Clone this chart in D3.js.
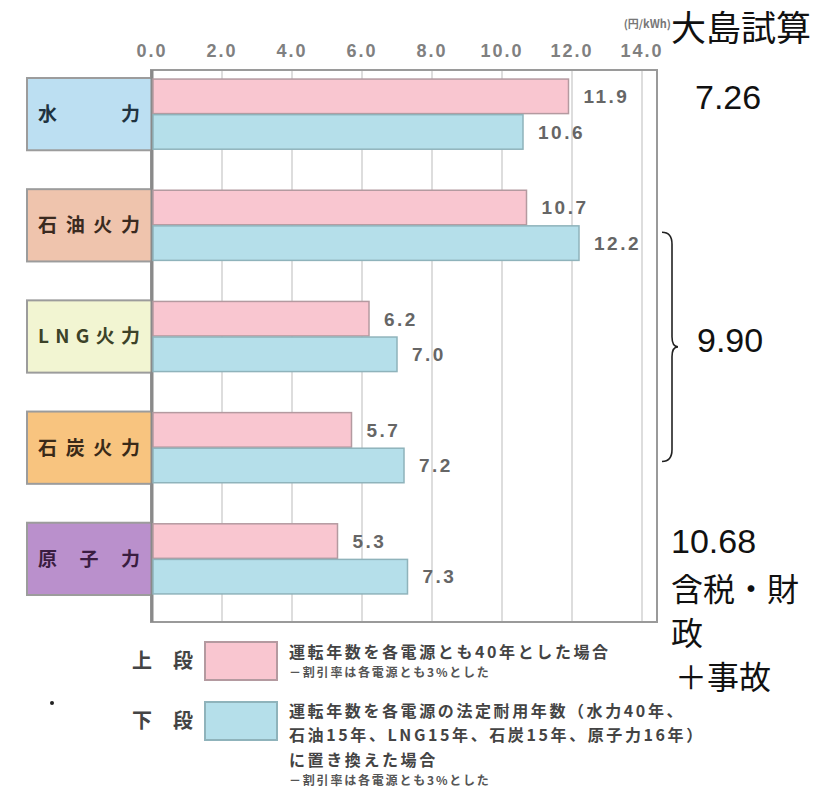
<!DOCTYPE html>
<html>
<head>
<meta charset="utf-8">
<script src="https://cdn.jsdelivr.net/npm/d3@7"></script>
<style>
  html, body { margin: 0; padding: 0; background: #fff; }
  svg { display: block; }
</style>
</head>
<body>
<div id="chart"></div>
<script>
// power sources and their generation cost (yen/kWh)
const categories = ['水力', '石油火力', 'LNG火力', '石炭火力', '原子力'];
const upperValues = [11.9, 10.7, 6.2, 5.7, 5.3]; // 40-year operation
const lowerValues = [10.6, 12.2, 7.0, 7.2, 7.3]; // statutory service life
const xTicks = [0, 2, 4, 6, 8, 10, 12, 14];
const unitLabel = '(円/kWh)';

// hand-written notes on the right
const noteTitle = '大島試算';
const noteValues = ['7.26', '9.90', '10.68'];
const noteExtra = ['含税・財', '政', '＋事故'];

// legend
const legendTags = [['上', '段'], ['下', '段']];
const legendUpperLines = ['運転年数を各電源とも40年とした場合', '－割引率は各電源とも3%とした'];
const legendLowerLines = [
  '運転年数を各電源の法定耐用年数（水力40年、',
  '石油15年、LNG15年、石炭15年、原子力16年）',
  'に置き換えた場合',
  '－割引率は各電源とも3%とした'
];

const boxColors = ['#bcdff2', '#efc4ad', '#f2f5d2', '#f8c47f', '#ba90cc'];
const boxTextColors = ['#1f3340', '#3a2a20', '#3c4228', '#3a2a18', '#3a1d40'];
const pink = '#f9c6d0', blue = '#b5dfea';

const width = 829, height = 790;
const plot = { left: 152, right: 657, top: 70, bottom: 622 };

const svg = d3.select('#chart').append('svg')
  .attr('width', width)
  .attr('height', height)
  .style('font-family', '"Noto Sans CJK JP", sans-serif');

const x = d3.scaleLinear().domain([0, 14]).range([plot.left, 642]);

const y = d3.scaleBand()
  .domain(categories)
  .range([78, 595])
  .paddingInner(0.35);

const ySub = d3.scaleBand()
  .domain(['upper', 'lower'])
  .range([0, y.bandwidth()])
  .paddingInner(0.03)
  .paddingOuter(0.03);

// gridlines
svg.append('g')
  .selectAll('line')
  .data(xTicks.slice(1))
  .join('line')
  .attr('x1', d => x(d)).attr('x2', d => x(d))
  .attr('y1', plot.top).attr('y2', plot.bottom)
  .attr('stroke', '#d2d2d2')
  .attr('stroke-width', 1.5);

// frame
svg.append('rect')
  .attr('x', plot.left - 1)
  .attr('y', plot.top)
  .attr('width', plot.right - plot.left + 1)
  .attr('height', plot.bottom - plot.top)
  .attr('fill', 'none')
  .attr('stroke', '#9a9a9a')
  .attr('stroke-width', 2);

// tick labels on top
svg.append('g')
  .selectAll('text')
  .data(xTicks)
  .join('text')
  .attr('x', d => x(d))
  .attr('y', 57)
  .attr('text-anchor', 'middle')
  .attr('font-family', '"Liberation Sans", Arial, sans-serif')
  .attr('font-size', 18)
  .attr('font-weight', 'bold')
  .attr('letter-spacing', 2)
  .attr('fill', '#808080')
  .text(d => d3.format('.1f')(d));

svg.append('text')
  .attr('x', 671)
  .attr('y', 28)
  .attr('text-anchor', 'end')
  .attr('font-size', 11)
  .attr('font-weight', 'bold')
  .attr('fill', '#777')
  .text(unitLabel);

// category boxes
const cat = svg.append('g')
  .selectAll('g')
  .data(categories)
  .join('g')
  .attr('transform', d => `translate(0,${y(d)})`);

cat.append('rect')
  .attr('x', 27)
  .attr('width', plot.left - 27)
  .attr('height', y.bandwidth())
  .attr('fill', (d, i) => boxColors[i])
  .attr('stroke', '#9c9c9c')
  .attr('stroke-width', 2);

cat.append('text')
  .attr('x', 38)
  .attr('y', y.bandwidth() / 2)
  .attr('dy', '0.36em')
  .attr('font-size', 19)
  .attr('font-weight', 'bold')
  .attr('fill', (d, i) => boxTextColors[i])
  .attr('textLength', 102)
  .attr('lengthAdjust', 'spacing')
  .text(d => d);

// left axis line
svg.append('line')
  .attr('x1', plot.left).attr('x2', plot.left)
  .attr('y1', plot.top).attr('y2', plot.bottom)
  .attr('stroke', '#8a8a8a')
  .attr('stroke-width', 3);

// bars
const rows = categories.map((c, i) => [
  { cat: c, key: 'upper', value: upperValues[i] },
  { cat: c, key: 'lower', value: lowerValues[i] }
]).flat();

const bars = svg.append('g')
  .selectAll('g')
  .data(rows)
  .join('g')
  .attr('transform', d => `translate(0,${y(d.cat) + ySub(d.key)})`);

bars.append('rect')
  .attr('x', x(0) + 1)
  .attr('width', d => x(d.value) - x(0) - 1)
  .attr('height', ySub.bandwidth())
  .attr('fill', d => (d.key === 'upper' ? pink : blue))
  .attr('stroke', d => (d.key === 'upper' ? '#b49aa0' : '#8fb3bb'))
  .attr('stroke-width', 1.5);

bars.append('text')
  .attr('x', d => x(d.value) + 15)
  .attr('y', ySub.bandwidth() / 2)
  .attr('dy', '0.36em')
  .attr('font-family', '"Liberation Sans", Arial, sans-serif')
  .attr('font-size', 19)
  .attr('font-weight', 'bold')
  .attr('letter-spacing', 2.5)
  .attr('fill', '#666')
  .text(d => d3.format('.1f')(d.value));

// notes on the right
const notes = svg.append('g').attr('fill', '#111');

notes.append('text')
  .attr('x', 671).attr('y', 41)
  .attr('font-size', 35)
  .text(noteTitle);

const numFont = '"Liberation Sans", Arial, sans-serif';
const braceTop = y('石油火力') + 43, braceBottom = y('石炭火力') + 50;
const braceMid = (braceTop + braceBottom) / 2;

notes.append('text')
  .attr('x', 695).attr('y', y('水力') + ySub('upper') + ySub.bandwidth() - 5)
  .attr('font-family', numFont).attr('font-size', 34)
  .text(noteValues[0]);

notes.append('text')
  .attr('x', 697).attr('y', braceMid + 5)
  .attr('font-family', numFont).attr('font-size', 34)
  .text(noteValues[1]);

notes.append('text')
  .attr('x', 671).attr('y', 553)
  .attr('font-family', numFont).attr('font-size', 34)
  .text(noteValues[2]);

notes.selectAll('text.extra')
  .data(noteExtra)
  .join('text')
  .attr('class', 'extra')
  .attr('x', (d, i) => (i === 2 ? 675 : 671))
  .attr('y', (d, i) => 601 + i * 44)
  .attr('font-size', 32)
  .text(d => d);

// curly brace
const bx = 672;
svg.append('path')
  .attr('d', `M${bx - 10},${braceTop} Q${bx},${braceTop} ${bx},${braceTop + 12}
    L${bx},${braceMid - 10} Q${bx},${braceMid} ${bx + 6},${braceMid}
    Q${bx},${braceMid} ${bx},${braceMid + 10}
    L${bx},${braceBottom - 12} Q${bx},${braceBottom} ${bx - 10},${braceBottom}`)
  .attr('fill', 'none')
  .attr('stroke', '#222')
  .attr('stroke-width', 1.6);

// legend
const legend = svg.append('g');
const legendRows = [
  { tag: legendTags[0], color: pink, stroke: '#b49aa0', y: 642, lines: legendUpperLines, lineY: [16, 35] },
  { tag: legendTags[1], color: blue, stroke: '#8fb3bb', y: 702, lines: legendLowerLines, lineY: [15, 39, 64, 83] }
];

legendRows.forEach(r => {
  const g = legend.append('g').attr('transform', `translate(0,${r.y})`);
  g.append('text').attr('x', 132).attr('y', 26)
    .attr('font-size', 20).attr('font-weight', 'bold').attr('fill', '#444')
    .text(r.tag[0]);
  g.append('text').attr('x', 173).attr('y', 26)
    .attr('font-size', 20).attr('font-weight', 'bold').attr('fill', '#444')
    .text(r.tag[1]);
  g.append('rect')
    .attr('x', 205).attr('width', 72).attr('height', 38)
    .attr('fill', r.color)
    .attr('stroke', r.stroke)
    .attr('stroke-width', 2);
  r.lines.forEach((t, i) => {
    const small = t.startsWith('－');
    g.append('text')
      .attr('x', 289)
      .attr('y', r.lineY[i])
      .attr('font-size', small ? 12 : 16)
      .attr('font-weight', 'bold')
      .attr('letter-spacing', small ? 1.8 : 2.6)
      .attr('fill', small ? '#555' : '#444')
      .text(t);
  });
});

svg.append('circle')
  .attr('cx', 52).attr('cy', 703).attr('r', 2)
  .attr('fill', '#222');
</script>
</body>
</html>
